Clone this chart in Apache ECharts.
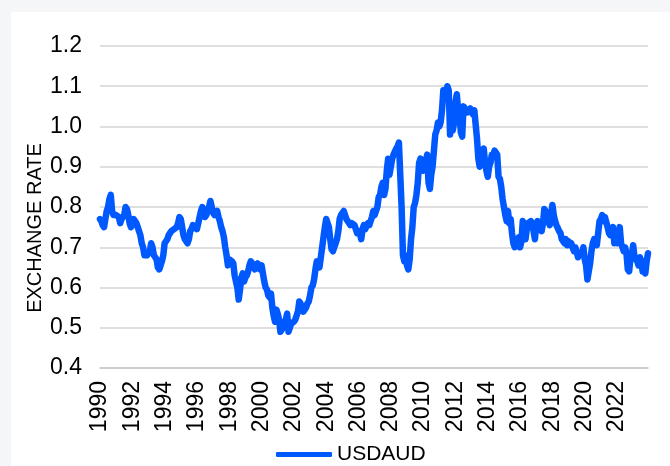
<!DOCTYPE html>
<html>
<head>
<meta charset="utf-8">
<script src="https://cdn.jsdelivr.net/npm/echarts@6/dist/echarts.min.js"></script>
<style>
  html, body { margin: 0; padding: 0; background: #f5f6f8; }
  #chart { position: absolute; left: 11px; top: 12px; width: 659px; height: 454px; background: #fff; }
</style>
</head>
<body>
<div id="chart"></div>
<script>
// ==============================================
// DATOS - tipo de cambio mensual, ene 1990 - dic 2023
// ==============================================

const primerAnio = 1990;
const nombreSerie = 'USDAUD';
const nombreEje = 'EXCHANGE RATE';

const usdaud = [
    // 1990
    0.77, 0.765, 0.755, 0.75, 0.77, 0.79, 0.80, 0.82, 0.83, 0.79, 0.78, 0.78,
    // 1991
    0.78, 0.78, 0.775, 0.76, 0.77, 0.775, 0.78, 0.80, 0.795, 0.78, 0.76, 0.75,
    // 1992
    0.76, 0.77, 0.765, 0.76, 0.75, 0.74, 0.73, 0.71, 0.70, 0.68, 0.685, 0.68,
    // 1993
    0.68, 0.69, 0.71, 0.70, 0.68, 0.675, 0.67, 0.65, 0.645, 0.655, 0.665, 0.68,
    // 1994
    0.71, 0.715, 0.72, 0.73, 0.735, 0.74, 0.74, 0.745, 0.745, 0.75, 0.76, 0.775,
    // 1995
    0.77, 0.75, 0.73, 0.72, 0.715, 0.71, 0.72, 0.74, 0.745, 0.755, 0.755, 0.75,
    // 1996
    0.745, 0.76, 0.775, 0.79, 0.80, 0.79, 0.775, 0.78, 0.795, 0.80, 0.815, 0.80,
    // 1997
    0.785, 0.78, 0.785, 0.79, 0.775, 0.765, 0.75, 0.74, 0.725, 0.70, 0.68, 0.655,
    // 1998
    0.67, 0.67, 0.665, 0.66, 0.63, 0.615, 0.60, 0.57, 0.595, 0.625, 0.635, 0.615,
    // 1999
    0.625, 0.63, 0.64, 0.655, 0.665, 0.66, 0.65, 0.645, 0.655, 0.66, 0.655, 0.645,
    // 2000
    0.655, 0.635, 0.615, 0.60, 0.595, 0.58, 0.575, 0.585, 0.55, 0.53, 0.515, 0.545,
    // 2001
    0.535, 0.52, 0.49, 0.495, 0.51, 0.51, 0.52, 0.535, 0.49, 0.50, 0.51, 0.51,
    // 2002
    0.515, 0.52, 0.53, 0.54, 0.565, 0.56, 0.545, 0.54, 0.545, 0.55, 0.56, 0.565,
    // 2003
    0.58, 0.60, 0.605, 0.62, 0.645, 0.665, 0.66, 0.65, 0.675, 0.70, 0.725, 0.75,
    // 2004
    0.77, 0.77, 0.75, 0.72, 0.695, 0.69, 0.70, 0.71, 0.72, 0.74, 0.77, 0.78,
    // 2005
    0.78, 0.79, 0.78, 0.77, 0.765, 0.76, 0.755, 0.76, 0.76, 0.755, 0.745, 0.735,
    // 2006
    0.74, 0.735, 0.72, 0.745, 0.755, 0.745, 0.755, 0.76, 0.755, 0.765, 0.775, 0.79,
    // 2007
    0.78, 0.79, 0.80, 0.825, 0.83, 0.85, 0.86, 0.83, 0.845, 0.89, 0.92, 0.88,
    // 2008
    0.88, 0.92, 0.93, 0.93, 0.945, 0.95, 0.96, 0.88, 0.80, 0.68, 0.665, 0.68,
    // 2009
    0.655, 0.645, 0.67, 0.72, 0.75, 0.80, 0.81, 0.83, 0.86, 0.91, 0.92, 0.90,
    // 2010
    0.89, 0.89, 0.915, 0.93, 0.86, 0.845, 0.88, 0.90, 0.94, 0.98, 0.99, 1.01,
    // 2011
    1.00, 1.01, 1.04, 1.09, 1.08, 1.07, 1.10, 1.09, 0.98, 1.03, 0.99, 1.01,
    // 2012
    1.06, 1.08, 1.04, 1.03, 0.985, 0.975, 1.05, 1.045, 1.04, 1.035, 1.04, 1.045,
    // 2013
    1.035, 1.03, 1.04, 1.04, 0.97, 0.92, 0.90, 0.90, 0.935, 0.945, 0.91, 0.89,
    // 2014
    0.875, 0.90, 0.91, 0.93, 0.925, 0.94, 0.935, 0.93, 0.875, 0.87, 0.85, 0.82,
    // 2015
    0.80, 0.78, 0.765, 0.79, 0.76, 0.77, 0.735, 0.71, 0.70, 0.715, 0.71, 0.725,
    // 2016
    0.70, 0.715, 0.765, 0.755, 0.72, 0.745, 0.76, 0.76, 0.765, 0.76, 0.74, 0.72,
    // 2017
    0.755, 0.765, 0.765, 0.745, 0.74, 0.76, 0.795, 0.79, 0.785, 0.765, 0.755, 0.78,
    // 2018
    0.805, 0.78, 0.765, 0.755, 0.755, 0.74, 0.735, 0.72, 0.72, 0.71, 0.72, 0.705,
    // 2019
    0.715, 0.705, 0.71, 0.70, 0.69, 0.70, 0.69, 0.675, 0.675, 0.685, 0.68, 0.70,
    // 2020
    0.67, 0.655, 0.62, 0.64, 0.66, 0.69, 0.71, 0.72, 0.715, 0.705, 0.735, 0.765,
    // 2021
    0.77, 0.78, 0.765, 0.775, 0.775, 0.75, 0.735, 0.73, 0.73, 0.75, 0.71, 0.725,
    // 2022
    0.71, 0.72, 0.75, 0.71, 0.71, 0.69, 0.70, 0.685, 0.645, 0.64, 0.675, 0.68,
    // 2023
    0.705, 0.675, 0.67, 0.665, 0.655, 0.675, 0.665, 0.64, 0.645, 0.635, 0.665, 0.685
];

// Eje Y: 0.4 - 1.2 cada 0.1
const yMin = 0.4;
const yMax = 1.2;
const yPaso = 0.1;

// Una etiqueta cada 2 años (24 meses)
const mesesEntreEtiquetas = 24;

// Categorías mensuales "AAAA-MM"
const meses = usdaud.map((_, i) => {
    const anio = primerAnio + Math.floor(i / 12);
    const mes = (i % 12) + 1;
    return anio + '-' + String(mes).padStart(2, '0');
});

// ==============================================
// GRÁFICO
// ==============================================

const fuente = '"Liberation Sans", Arial, sans-serif';
const azul = '#0059ff';

const chart = echarts.init(document.getElementById('chart'), null, { renderer: 'canvas' });
chart.setOption({
    animation: false,
    backgroundColor: '#ffffff',
    textStyle: { fontFamily: fuente },
    grid: { left: 89, right: 22, top: 34, bottom: 98, containLabel: false },
    legend: {
        left: 260, top: 427,
        icon: 'roundRect',
        itemWidth: 56, itemHeight: 5, itemGap: 10,
        textStyle: { color: '#000', fontSize: 21, fontFamily: fuente },
        data: [nombreSerie]
    },
    graphic: [{
        type: 'text',
        x: 24, y: 216,
        rotation: Math.PI / 2,
        style: {
            text: nombreEje,
            fill: '#000',
            font: '20px ' + fuente,
            align: 'center',
            verticalAlign: 'middle'
        }
    }],
    xAxis: {
        type: 'category',
        data: meses,
        boundaryGap: false,
        axisLine: { show: true, lineStyle: { color: '#c8c8c8', width: 1.5 } },
        axisTick: { show: false },
        axisLabel: {
            rotate: 90,
            margin: 13,
            color: '#000',
            fontSize: 23,
            fontFamily: fuente,
            interval: (i) => i % mesesEntreEtiquetas === 0,
            formatter: (v) => v.slice(0, 4)
        },
        splitLine: { show: false }
    },
    yAxis: {
        type: 'value',
        min: yMin, max: yMax, interval: yPaso,
        axisLine: { show: false },
        axisTick: { show: false },
        axisLabel: {
            margin: 18,
            color: '#000',
            fontSize: 23,
            fontFamily: fuente,
            formatter: (v) => v.toFixed(1)
        },
        splitLine: { show: true, lineStyle: { color: '#d4d4d4', width: 1.5 } }
    },
    series: [{
        name: nombreSerie,
        type: 'line',
        data: usdaud,
        showSymbol: false,
        symbol: 'none',
        smooth: false,
        color: azul,
        lineStyle: { color: azul, width: 6.5, cap: 'round', join: 'round' }
    }]
});
</script>
</body>
</html>
